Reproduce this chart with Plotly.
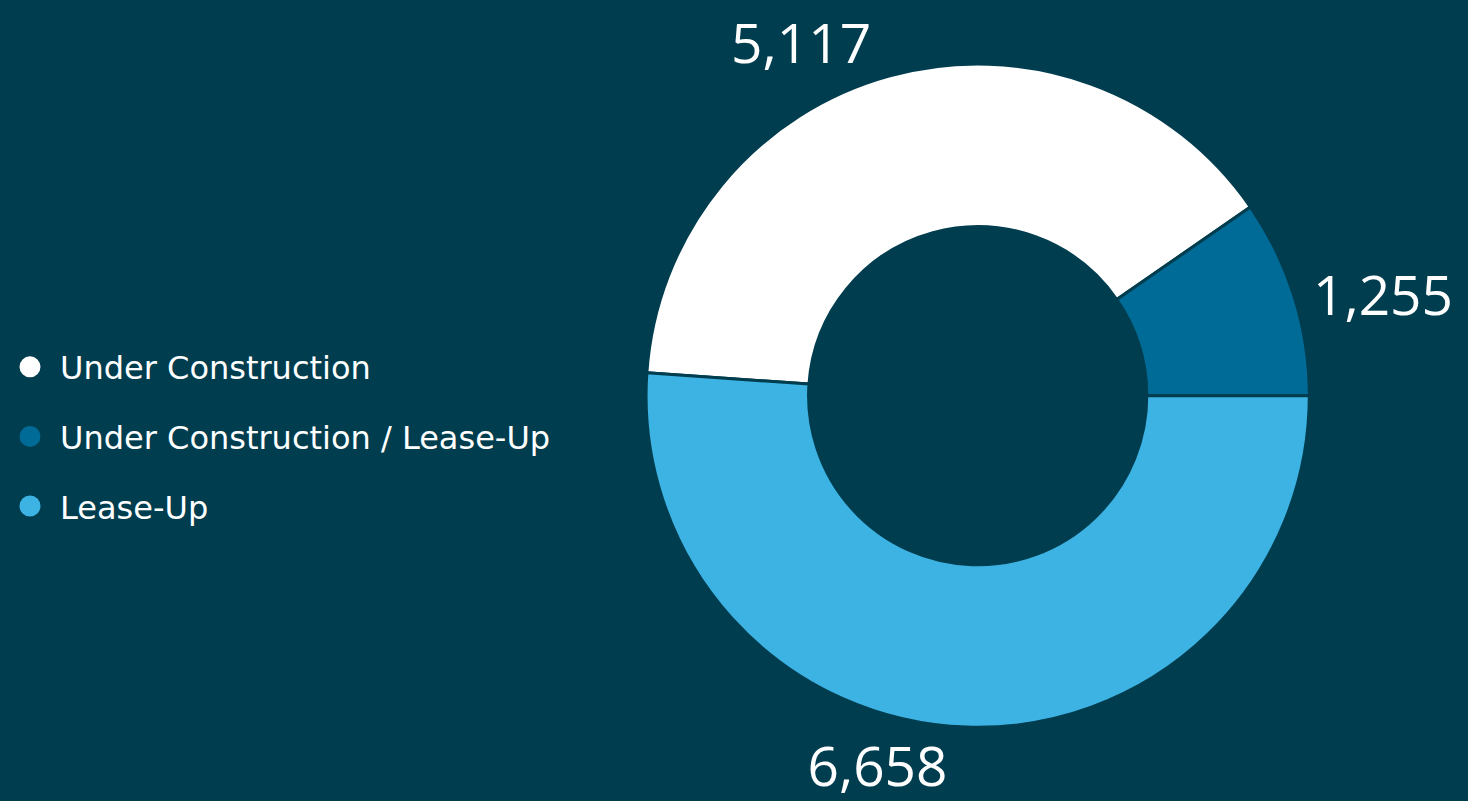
import plotly.graph_objects as go

categories = ["Under Construction", "Under Construction / Lease-Up", "Lease-Up"]
values = [5117, 1255, 6658]
colors = ["#ffffff", "#006b96", "#3db3e4"]

BG = "#003d4f"
NUM_FONT = "Open Sans"
LEG_FONT = "DejaVu Sans"

total = sum(values)
rotation = 90 - 360 * (values[0] + values[1]) / total

fig = go.Figure()
fig.add_trace(go.Pie(
    labels=categories,
    values=values,
    hole=0.51,
    sort=False,
    direction="clockwise",
    rotation=rotation,
    marker=dict(colors=colors, line=dict(color=BG, width=3)),
    textinfo="value",
    texttemplate="%{value:,}",
    textposition="outside",
    outsidetextfont=dict(color="white", size=55, family=NUM_FONT),
    showlegend=False,
    domain=dict(x=[0.440, 0.892], y=[0.092, 0.920]),
    hoverinfo="label+value",
    automargin=False,
))

for i, (name, c) in enumerate(zip(categories, colors)):
    fig.add_trace(go.Scatter(
        x=[None], y=[None], mode="markers", name=name,
        marker=dict(symbol="circle", size=16, color=c, line=dict(color=c, width=5)),
        legendgroup=f"g{i}", showlegend=True,
    ))

fig.update_layout(
    width=1468, height=801,
    paper_bgcolor=BG, plot_bgcolor=BG,
    margin=dict(l=0, r=0, t=0, b=0),
    xaxis=dict(visible=False), yaxis=dict(visible=False),
    legend=dict(
        x=0.0, y=0.455, xanchor="left", yanchor="middle",
        font=dict(color="white", size=32, family=LEG_FONT),
        tracegroupgap=25, itemsizing="trace", itemwidth=50,
        bgcolor="rgba(0,0,0,0)",
    ),
)

fig.write_html("out.html")
